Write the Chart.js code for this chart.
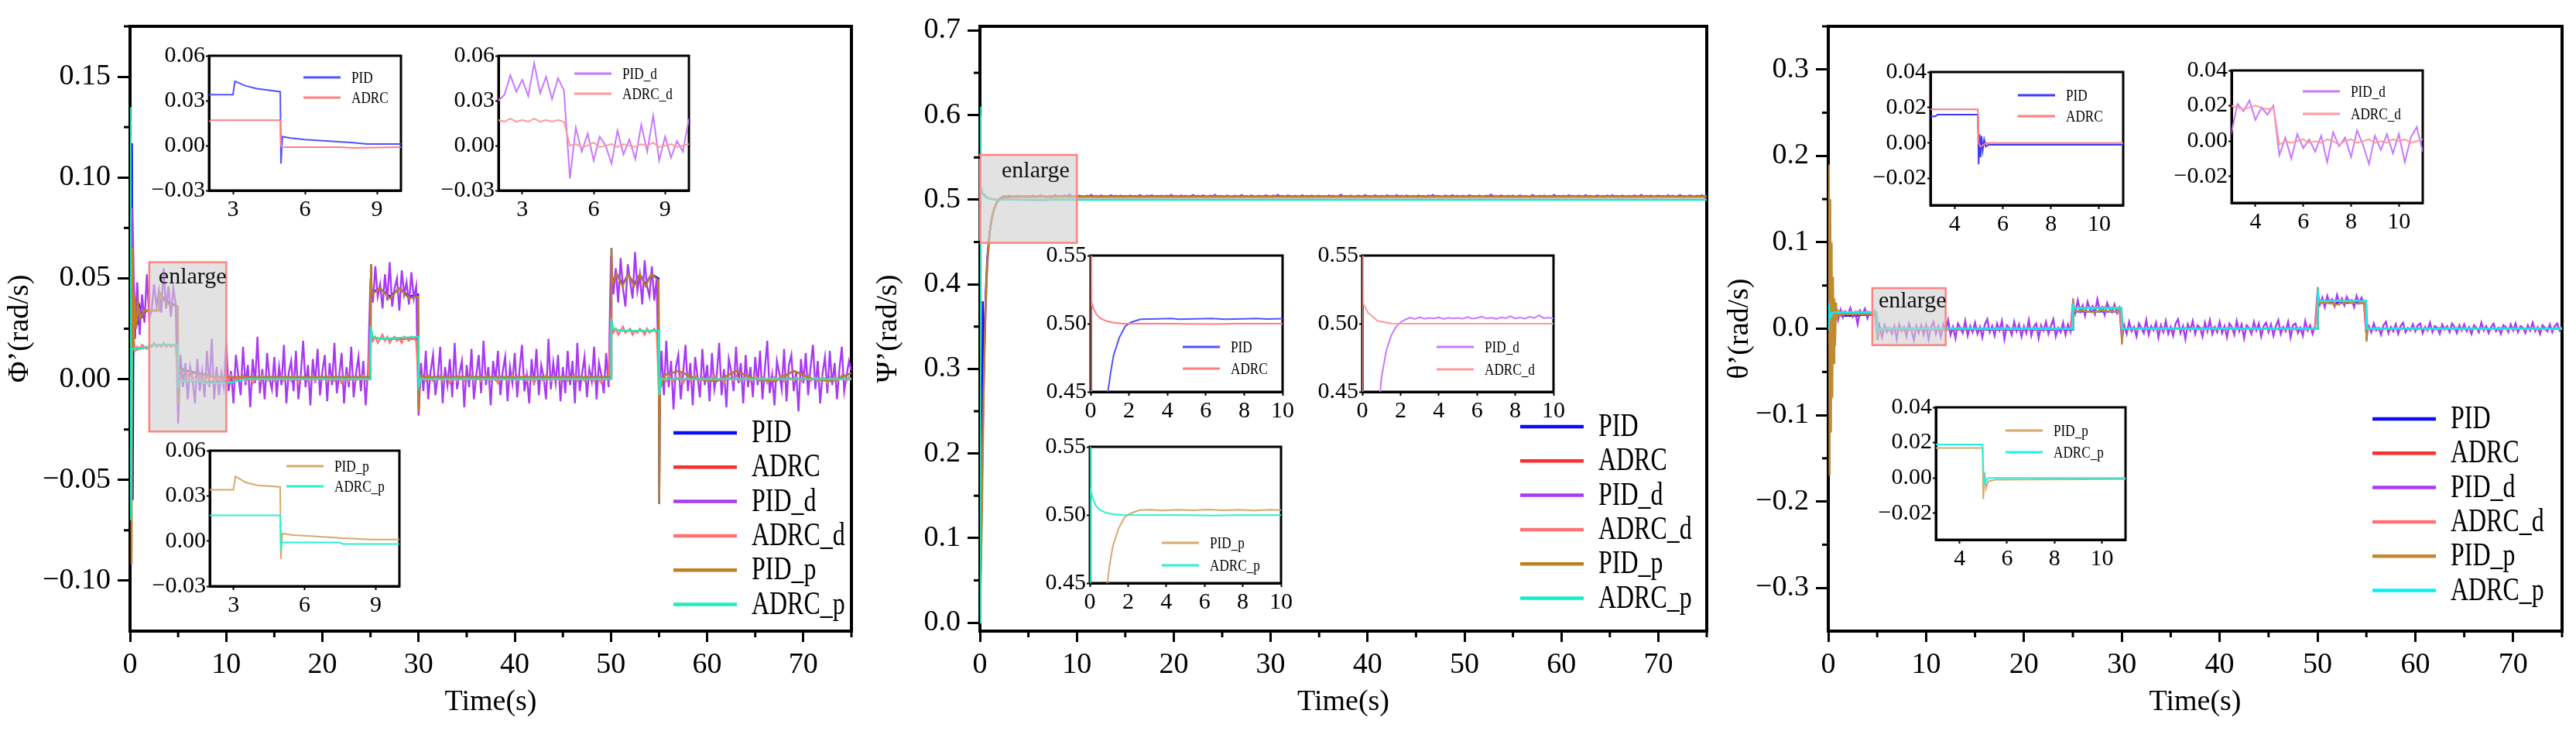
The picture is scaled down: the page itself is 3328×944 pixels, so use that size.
<!DOCTYPE html>
<html>
<head>
<meta charset="utf-8">
<script src="https://cdn.jsdelivr.net/npm/chart.js@4.4.0/dist/chart.umd.min.js"></script>
<style>
  html, body { margin: 0; padding: 0; background: #fff; }
  #wrap { position: relative; width: 3328px; height: 944px; overflow: hidden; background: #fff; }
  canvas { position: absolute; }
</style>
</head>
<body>
<div id="wrap"></div>
<script>
// ---------------- data ----------------
const seriesNames = ['PID', 'ADRC', 'PID_d', 'ADRC_d', 'PID_p', 'ADRC_p'];
const noiseStep = 0.25; // spacing (s) of the sampled noisy arrays

const timeTicks = [0, 10, 20, 30, 40, 50, 60, 70];
const phiTicks = [-0.1, -0.05, 0, 0.05, 0.1, 0.15];
const psiTicks = [0, 0.1, 0.2, 0.3, 0.4, 0.5, 0.6, 0.7];
const thetaTicks = [-0.3, -0.2, -0.1, 0, 0.1, 0.2, 0.3];
const phiInsetX = [3, 6, 9];
const phiInsetY = [-0.03, 0, 0.03, 0.06];
const psiInsetX = [0, 2, 4, 6, 8, 10];
const psiInsetY = [0.45, 0.5, 0.55];
const thetaInsetX = [4, 6, 8, 10];
const thetaInsetY = [-0.02, 0, 0.02, 0.04];

// Phi' — [time, value] breakpoints
const phiPid = [[0,0],[0.1,0.05],[0.2,0.117],[0.28,-0.06],[0.38,0.05],[0.5,0.02],[0.65,0.04],[0.8,0.027],[1.0,0.036],[1.3,0.031],[1.7,0.034],[3.0,0.034],[3.08,0.043],[3.5,0.040],[4.0,0.038],[4.97,0.036],[5.0,-0.012],[5.06,0.006],[5.4,0.005],[6,0.004],[7,0.003],[8,0.002],[8.6,0.001],[10,0.001],[25,0.001],[25.05,0.057],[25.12,0.043],[26,0.045],[27,0.041],[28,0.045],[29,0.041],[29.95,0.042],[30.02,-0.015],[30.1,0.002],[31,0.001],[50,0.001],[50.05,0.065],[50.12,0.048],[50.6,0.052],[51.2,0.047],[51.8,0.052],[52.4,0.047],[53,0.052],[53.6,0.047],[54.2,0.052],[54.95,0.05],[55.02,-0.062],[55.1,-0.004],[55.6,0.002],[57,0.004],[59,0.0],[61,-0.001],[63,0.004],[65,0.0],[67,-0.001],[69,0.004],[71,0.0],[73,-0.001],[75,0.003]];
const phiAdrc = [[0,0],[0.04,0.128],[0.1,-0.065],[0.18,0.014],[1,0.015],[2,0.016],[2.1,0.017],[4.97,0.017],[5.0,0.0],[5.05,-0.001],[7.5,-0.001],[8,-0.0015],[10,-0.001],[12,0],[25,0],[25.03,0.025],[25.2,0.021],[26,0.02],[30,0.02],[30.03,-0.003],[30.2,0],[50,0],[50.03,0.03],[50.2,0.025],[51,0.024],[55,0.024],[55.03,-0.008],[55.2,0],[75,0]];
const phiPidP = [[0,0],[0.06,0.12],[0.16,-0.092],[0.26,0.065],[0.36,0.015],[0.48,0.042],[0.65,0.025],[0.85,0.037],[1.1,0.03],[1.5,0.034],[3.0,0.034],[3.08,0.043],[3.5,0.039],[4.0,0.037],[4.97,0.036],[5.0,-0.012],[5.06,0.005],[5.5,0.004],[6.5,0.003],[7.5,0.002],[8.8,0.001],[10,0.001],[25,0.001],[25.05,0.057],[25.12,0.042],[26,0.045],[27,0.04],[28,0.045],[29,0.04],[29.95,0.041],[30.02,-0.016],[30.1,0.002],[31,0.001],[50,0.001],[50.05,0.065],[50.12,0.047],[50.6,0.052],[51.2,0.046],[51.8,0.052],[52.4,0.046],[53,0.052],[53.6,0.046],[54.2,0.052],[54.95,0.049],[55.02,-0.062],[55.1,-0.005],[55.6,0.002],[57,0.004],[59,0.0],[61,-0.001],[63,0.004],[65,0.0],[67,-0.001],[69,0.004],[71,0.0],[73,-0.001],[75,0.003]];
const phiAdrcP = [[0,0],[0.04,0.135],[0.1,-0.07],[0.18,0.015],[1,0.015],[1.9,0.016],[2,0.017],[4.97,0.017],[5.0,-0.004],[5.06,-0.001],[7.5,-0.001],[7.6,-0.002],[10,-0.002],[12,0],[25,0],[25.03,0.026],[25.2,0.021],[26,0.02],[29.97,0.021],[30.02,-0.003],[30.2,0],[50,0],[50.03,0.03],[50.2,0.025],[51,0.024],[54.97,0.024],[55.02,-0.008],[55.2,0],[75,0]];
// Phi' — noisy runs, one value every noiseStep seconds from t = 0 (rows of 5 s)
const phiPidD = [
  0, 0.085, 0.02, 0.048, 0.022, 0.042, 0.028, 0.052, 0.03, 0.034, 0.047, 0.036, 0.044, 0.033, 0.055, 0.035, 0.046, 0.031, 0.045, 0.037,
  -0.022, 0.012, -0.004, 0.008, -0.01, 0.006, 0.0, -0.012, 0.01, -0.006, 0.004, -0.009, 0.014, -0.004, 0.02, -0.01, 0.006, -0.008, 0.003, -0.004,
  0.018, -0.006, 0.004, -0.012, 0.012, 0.002, -0.008, 0.016, -0.003, 0.007, -0.014, 0.01, -0.002, 0.021, -0.007, 0.005, -0.01, 0.013, 0.0, -0.005,
  0.011, -0.009, 0.006, -0.003, 0.017, -0.012, 0.003, 0.009, -0.006, 0.014, -0.01, 0.002, 0.019, -0.004, 0.007, -0.013, 0.01, -0.002, 0.015, -0.008,
  0.004, 0.012, -0.011, 0.008, -0.003, 0.018, -0.007, 0.002, 0.013, -0.012, 0.006, -0.004, 0.016, -0.009, 0.003, 0.011, -0.006, 0.009, -0.013, 0.005,
  0.05, 0.038, 0.056, 0.041, 0.047, 0.035, 0.052, 0.039, 0.058, 0.036, 0.045, 0.05, 0.034, 0.054, 0.042, 0.048, 0.037, 0.053, 0.04, 0.046,
  -0.018, 0.008, -0.006, 0.014, -0.01, 0.004, 0.012, -0.008, 0.002, 0.016, -0.012, 0.006, -0.003, 0.01, -0.009, 0.018, -0.005, 0.003, 0.009, -0.014,
  0.007, -0.004, 0.015, -0.01, 0.002, 0.012, -0.007, 0.019, -0.003, 0.006, -0.013, 0.009, -0.001, 0.014, -0.008, 0.004, 0.011, -0.011, 0.006, -0.002,
  0.013, -0.009, 0.005, 0.017, -0.006, 0.002, -0.012, 0.01, -0.003, 0.015, -0.008, 0.007, 0.001, -0.01, 0.02, -0.005, 0.008, -0.002, 0.012, -0.011,
  0.006, -0.007, 0.014, -0.003, 0.009, -0.012, 0.018, -0.006, 0.003, 0.011, -0.009, 0.005, -0.001, 0.016, -0.01, 0.008, 0.002, -0.007, 0.013, -0.004,
  0.061, 0.042, 0.055, 0.038, 0.06, 0.045, 0.036, 0.057, 0.048, 0.04, 0.063, 0.044, 0.052, 0.037, 0.059, 0.046, 0.041, 0.056, 0.039, 0.05,
  -0.012, 0.014, -0.008, 0.019, -0.004, 0.009, -0.015, 0.006, 0.012, -0.01, 0.003, 0.017, -0.006, 0.008, -0.013, 0.011, 0.001, -0.009, 0.015, -0.003,
  0.007, -0.011, 0.013, -0.005, 0.002, 0.018, -0.008, 0.005, -0.014, 0.01, 0.004, -0.006, 0.016, -0.002, 0.008, -0.012, 0.012, -0.004, 0.006, -0.009,
  0.011, -0.003, 0.014, -0.01, 0.005, 0.019, -0.007, 0.002, -0.013, 0.009, 0.003, -0.005, 0.015, -0.011, 0.007, 0.012, -0.006, 0.004, -0.016, 0.01,
  -0.002, 0.013, -0.008, 0.006, 0.017, -0.005, 0.009, -0.012, 0.003, 0.011, -0.007, 0.014, -0.003, 0.008, -0.01, 0.005, 0.016, -0.006, 0.002, 0.009,
  0.004
];
const phiAdrcD = [
  0, 0.03, 0.014, 0.016, 0.015, 0.017, 0.016, 0.015, 0.017, 0.016, 0.018, 0.016, 0.017, 0.016, 0.018, 0.016, 0.017, 0.016, 0.017, 0.016,
  0.0, 0.001, -0.001, 0.0, 0.002, -0.001, 0.0, 0.001, -0.001, 0.001, 0.0, -0.001, 0.001, 0.0, 0.002, -0.001, 0.0, 0.001, -0.001, 0.0,
  0.001, -0.001, 0.002, 0.0, -0.001, 0.001, 0.0, 0.002, -0.001, 0.0, 0.001, -0.002, 0.0, 0.001, -0.001, 0.002, 0.0, -0.001, 0.001, 0.0,
  -0.001, 0.001, 0.0, 0.002, -0.001, 0.0, 0.001, -0.001, 0.002, 0.0, -0.002, 0.001, 0.0, 0.001, -0.001, 0.0, 0.002, -0.001, 0.001, 0.0,
  0.001, 0.0, -0.001, 0.002, 0.0, -0.001, 0.001, 0.0, -0.002, 0.001, 0.002, -0.001, 0.0, 0.001, -0.001, 0.001, 0.0, 0.002, -0.001, 0.0,
  0.026, 0.019, 0.021, 0.018, 0.02, 0.022, 0.019, 0.021, 0.018, 0.02, 0.021, 0.019, 0.02, 0.018, 0.021, 0.02, 0.019, 0.021, 0.02, 0.019,
  -0.003, 0.001, 0.0, -0.001, 0.002, 0.0, -0.001, 0.001, 0.0, 0.002, -0.001, 0.0, 0.001, -0.002, 0.0, 0.001, -0.001, 0.002, 0.0, -0.001,
  0.001, 0.0, 0.002, -0.001, 0.0, 0.001, -0.001, 0.0, 0.002, 0.0, -0.001, 0.001, 0.0, -0.002, 0.001, 0.0, 0.001, -0.001, 0.0, 0.002,
  0.0, -0.001, 0.001, 0.0, 0.002, -0.001, 0.0, 0.001, -0.002, 0.0, 0.001, 0.0, -0.001, 0.002, 0.0, -0.001, 0.001, 0.0, 0.001, -0.001,
  0.001, 0.0, -0.001, 0.001, 0.0, 0.002, -0.001, 0.0, 0.001, -0.001, 0.0, 0.002, 0.0, -0.001, 0.001, 0.0, -0.002, 0.001, 0.0, 0.001,
  0.03, 0.023, 0.025, 0.022, 0.024, 0.026, 0.023, 0.024, 0.025, 0.022, 0.024, 0.023, 0.025, 0.024, 0.022, 0.025, 0.023, 0.024, 0.025, 0.023,
  -0.006, 0.001, 0.0, -0.001, 0.002, 0.0, -0.001, 0.001, 0.0, 0.002, -0.002, 0.0, 0.001, -0.001, 0.0, 0.002, 0.0, -0.001, 0.001, 0.0,
  -0.001, 0.001, 0.0, 0.002, -0.001, 0.0, 0.001, -0.002, 0.0, 0.001, 0.0, -0.001, 0.002, 0.0, -0.001, 0.001, 0.0, 0.001, -0.001, 0.0,
  0.002, 0.0, -0.001, 0.001, 0.0, -0.002, 0.001, 0.0, 0.001, -0.001, 0.0, 0.002, -0.001, 0.0, 0.001, 0.0, -0.001, 0.001, 0.0, -0.001,
  0.001, 0.0, 0.002, -0.001, 0.0, 0.001, -0.001, 0.0, 0.001, 0.0, -0.002, 0.001, 0.0, 0.001, -0.001, 0.0, 0.002, 0.0, -0.001, 0.001,
  0.0
];

// Psi'
const psiPid = [[0,0],[0.2,0.16],[0.3,0.38],[0.4,0.3],[0.6,0.39],[0.75,0.43],[0.9,0.45],[1.05,0.465],[1.2,0.477],[1.5,0.49],[1.8,0.498],[2.1,0.501],[2.6,0.5032],[3.5,0.5035],[4.2,0.5038],[4.6,0.5033],[5.5,0.5036],[6.3,0.5038],[7,0.5033],[8,0.5036],[8.6,0.5039],[9.2,0.5034],[10,0.5037],[75,0.5035]];
const psiAdrc = [[0,0],[0.02,0.6],[0.05,0.516],[0.15,0.511],[0.3,0.507],[0.5,0.504],[0.8,0.502],[1.2,0.5007],[1.7,0.5],[4,0.5],[5,0.4998],[6.5,0.4997],[7.5,0.5],[10,0.5],[75,0.5]];
const psiAdrcD = [[0,0],[0.02,0.6],[0.05,0.515],[0.3,0.508],[0.8,0.502],[1.5,0.5002],[2,0.5],[10,0.5],[75,0.5]];
const psiPidP = [[0,0],[0.2,0.12],[0.4,0.28],[0.6,0.38],[0.8,0.435],[1.0,0.46],[1.2,0.477],[1.5,0.49],[1.8,0.498],[2.1,0.501],[2.6,0.5035],[3.2,0.5038],[3.8,0.5033],[4.6,0.5039],[5.4,0.5034],[6.2,0.504],[7,0.5034],[7.8,0.5039],[8.6,0.5033],[9.4,0.5039],[10,0.5036],[75,0.5037]];
const psiAdrcP = [[0,0],[0.01,0.61],[0.04,0.52],[0.15,0.512],[0.3,0.507],[0.5,0.504],[0.8,0.5018],[1.2,0.5005],[1.7,0.5],[5,0.4998],[6.5,0.4996],[7.5,0.4999],[10,0.4999],[75,0.4999]];
const psiPidD = [
  0, 0.2, 0.34, 0.42, 0.46, 0.48, 0.491, 0.4975, 0.501, 0.503, 0.5045, 0.5035, 0.5048, 0.5036, 0.5042, 0.5038, 0.5046, 0.5034, 0.5044, 0.5039,
  0.5043, 0.5036, 0.5049, 0.5037, 0.5041, 0.5052, 0.5038, 0.5044, 0.5035, 0.5047, 0.5040, 0.5055, 0.5039, 0.5046, 0.5036, 0.5051, 0.5042, 0.5062, 0.5040, 0.5045,
  0.5038, 0.5050, 0.5041, 0.5036, 0.5048, 0.5043, 0.5057, 0.5039, 0.5046, 0.5035, 0.5052, 0.5040, 0.5044, 0.5037, 0.5053, 0.5041, 0.5047, 0.5036, 0.5049, 0.5042,
  0.5045, 0.5037, 0.5051, 0.5040, 0.5046, 0.5038, 0.5056, 0.5042, 0.5036, 0.5049, 0.5041, 0.5054, 0.5038, 0.5045, 0.5040, 0.5050, 0.5037, 0.5047, 0.5043, 0.5058,
  0.5039, 0.5046, 0.5036, 0.5052, 0.5041, 0.5048, 0.5037, 0.5044, 0.5055, 0.5040, 0.5047, 0.5038, 0.5051, 0.5043, 0.5036, 0.5049, 0.5042, 0.5057, 0.5039, 0.5045,
  0.5044, 0.5037, 0.5050, 0.5041, 0.5035, 0.5048, 0.5043, 0.5039, 0.5055, 0.5040, 0.5046, 0.5036, 0.5051, 0.5042, 0.5038, 0.5047, 0.5044, 0.5036, 0.5053, 0.5041,
  0.5037, 0.5049, 0.5042, 0.5058, 0.5040, 0.5045, 0.5036, 0.5051, 0.5043, 0.5038, 0.5047, 0.5041, 0.5035, 0.5054, 0.5039, 0.5046, 0.5042, 0.5050, 0.5037, 0.5044,
  0.5048, 0.5039, 0.5045, 0.5036, 0.5052, 0.5041, 0.5047, 0.5038, 0.5044, 0.5060, 0.5040, 0.5046, 0.5037, 0.5050, 0.5042, 0.5036, 0.5049, 0.5043, 0.5039, 0.5055,
  0.5041, 0.5046, 0.5037, 0.5051, 0.5043, 0.5039, 0.5048, 0.5035, 0.5053, 0.5042, 0.5045, 0.5038, 0.5056, 0.5040, 0.5047, 0.5036, 0.5050, 0.5044, 0.5039, 0.5046,
  0.5037, 0.5052, 0.5040, 0.5045, 0.5036, 0.5049, 0.5043, 0.5057, 0.5038, 0.5046, 0.5041, 0.5035, 0.5050, 0.5044, 0.5039, 0.5053, 0.5040, 0.5047, 0.5036, 0.5048,
  0.5043, 0.5038, 0.5054, 0.5041, 0.5046, 0.5037, 0.5050, 0.5042, 0.5039, 0.5048, 0.5044, 0.5059, 0.5040, 0.5045, 0.5036, 0.5051, 0.5043, 0.5038, 0.5047, 0.5041,
  0.5049, 0.5036, 0.5044, 0.5052, 0.5039, 0.5046, 0.5041, 0.5035, 0.5055, 0.5043, 0.5038, 0.5048, 0.5042, 0.5050, 0.5037, 0.5045, 0.5040, 0.5057, 0.5039, 0.5046,
  0.5042, 0.5048, 0.5037, 0.5053, 0.5041, 0.5045, 0.5036, 0.5050, 0.5044, 0.5039, 0.5056, 0.5040, 0.5047, 0.5038, 0.5043, 0.5051, 0.5036, 0.5046, 0.5042, 0.5049,
  0.5038, 0.5054, 0.5041, 0.5046, 0.5037, 0.5050, 0.5043, 0.5039, 0.5047, 0.5036, 0.5052, 0.5044, 0.5040, 0.5058, 0.5038, 0.5045, 0.5041, 0.5049, 0.5037, 0.5044,
  0.5050, 0.5039, 0.5045, 0.5036, 0.5053, 0.5042, 0.5047, 0.5038, 0.5044, 0.5055, 0.5040, 0.5046, 0.5037, 0.5051, 0.5043, 0.5039, 0.5048, 0.5041, 0.5054, 0.5040,
  0.5045
];

// Theta'
const thetaPid = [[0,0],[0.08,0.12],[0.16,-0.1],[0.25,0.06],[0.35,-0.03],[0.45,0.03],[0.55,0.005],[0.75,0.018],[1,0.015],[3.2,0.015],[3.3,0.016],[4.97,0.016],[5.0,-0.012],[5.04,0.005],[5.08,-0.008],[5.12,0.004],[5.17,-0.004],[5.23,0.002],[5.3,-0.002],[5.4,-0.001],[25,-0.001],[25.03,0.03],[25.1,0.02],[29.97,0.02],[30.02,-0.015],[30.1,0.0],[50,0],[50.03,0.045],[50.1,0.03],[54.97,0.03],[55.02,-0.012],[55.1,0],[75,0]];
const thetaAdrc = [[0,0],[0.06,0.05],[0.12,-0.02],[0.22,0.025],[0.4,0.015],[0.7,0.019],[4.97,0.019],[5.0,0.0],[5.08,-0.002],[5.3,0],[25,0],[25.03,0.028],[25.1,0.024],[29.97,0.024],[30.02,-0.003],[30.1,0],[50,0],[50.03,0.04],[50.1,0.032],[54.97,0.032],[55.02,-0.004],[55.1,0],[75,0]];
const thetaPidP = [[0,0],[0.07,0.19],[0.14,-0.17],[0.21,0.15],[0.28,-0.12],[0.35,0.1],[0.42,-0.08],[0.49,0.06],[0.56,-0.04],[0.63,0.035],[0.7,-0.02],[0.8,0.03],[0.9,0.01],[1.0,0.02],[1.2,0.015],[1.5,0.017],[4.97,0.017],[5.0,-0.012],[5.06,0.003],[5.12,-0.006],[5.2,-0.002],[5.5,-0.001],[25,0],[25.04,0.035],[25.1,0.02],[26,0.021],[27,0.019],[28,0.021],[29,0.02],[29.97,0.02],[30.02,-0.018],[30.12,0.002],[30.4,0],[50,0],[50.04,0.048],[50.1,0.03],[51,0.03],[52,0.028],[53,0.031],[54,0.029],[54.97,0.03],[55.02,-0.015],[55.12,0.002],[55.4,0],[75,0]];
const thetaAdrcP = [[0,0],[0.06,0.03],[0.16,0.012],[0.4,0.018],[0.7,0.019],[4.97,0.019],[5.0,0.005],[5.05,-0.003],[5.2,0],[25,0],[25.02,0.026],[25.1,0.024],[29.97,0.024],[30.02,0.0],[50,0],[50.03,0.046],[50.1,0.032],[54.97,0.032],[55.02,0],[75,0]];
const thetaPidD = [
  0, 0.058, 0.005, 0.025, 0.01, 0.022, 0.013, 0.02, 0.016, 0.024, 0.014, 0.019, 0.005, 0.021, 0.017, 0.023, 0.012, 0.019, 0.015, 0.02,
  -0.008, 0.002, -0.01, 0.004, -0.004, 0.001, -0.006, 0.003, -0.012, 0.005, -0.003, 0.002, -0.009, 0.006, -0.002, -0.013, 0.003, -0.005, 0.004, -0.007,
  0.004, -0.012, 0.002, 0.008, -0.006, 0.003, -0.009, 0.005, -0.003, 0.01, -0.007, 0.002, -0.011, 0.006, 0.001, -0.005, 0.009, -0.008, 0.003, -0.004,
  0.007, -0.006, 0.002, -0.01, 0.005, 0.011, -0.004, 0.003, -0.008, 0.006, -0.002, 0.009, -0.012, 0.004, 0.001, -0.007, 0.008, -0.003, 0.005, -0.009,
  0.003, -0.005, 0.01, -0.008, 0.002, 0.006, -0.011, 0.004, -0.002, 0.008, -0.006, 0.003, 0.011, -0.009, 0.001, -0.004, 0.007, -0.007, 0.005, -0.003,
  0.03, 0.018, 0.033, 0.02, 0.027, 0.015, 0.031, 0.022, 0.026, 0.017, 0.034, 0.021, 0.025, 0.016, 0.03, 0.023, 0.019, 0.028, 0.018, 0.024,
  -0.012, 0.004, -0.006, 0.008, -0.003, 0.002, -0.009, 0.006, 0.001, -0.005, 0.01, -0.007, 0.003, -0.002, 0.007, -0.01, 0.004, -0.004, 0.009, -0.006,
  0.002, -0.008, 0.006, 0.011, -0.005, 0.003, -0.012, 0.005, -0.002, 0.009, -0.006, 0.004, 0.001, -0.009, 0.007, -0.003, 0.01, -0.006, 0.002, -0.004,
  0.008, -0.005, 0.003, -0.01, 0.006, 0.002, -0.007, 0.009, -0.003, 0.005, -0.011, 0.004, 0.001, -0.006, 0.008, -0.002, 0.006, -0.009, 0.003, 0.007,
  -0.004, 0.005, -0.008, 0.003, 0.01, -0.006, 0.002, -0.003, 0.008, -0.01, 0.004, 0.006, -0.005, 0.001, -0.008, 0.009, -0.002, 0.004, -0.006, 0.003,
  0.042, 0.028, 0.036, 0.025, 0.038, 0.03, 0.034, 0.026, 0.039, 0.029, 0.035, 0.027, 0.037, 0.031, 0.033, 0.025, 0.038, 0.03, 0.036, 0.028,
  -0.008, 0.003, -0.004, 0.006, -0.002, 0.001, -0.007, 0.004, 0.008, -0.005, 0.002, -0.003, 0.005, -0.006, 0.003, 0.007, -0.004, 0.001, -0.002, 0.005,
  -0.003, 0.004, 0.006, -0.005, 0.002, -0.002, 0.007, -0.004, 0.003, 0.001, -0.006, 0.005, -0.001, 0.003, -0.004, 0.006, 0.002, -0.005, 0.004, -0.002,
  0.005, -0.003, 0.002, -0.006, 0.004, 0.001, -0.004, 0.007, -0.002, 0.003, -0.005, 0.002, 0.006, -0.003, 0.001, -0.006, 0.004, 0.002, -0.004, 0.005,
  -0.002, 0.006, -0.004, 0.003, 0.001, -0.005, 0.004, -0.002, 0.007, -0.003, 0.002, -0.006, 0.004, 0.001, -0.003, 0.005, -0.004, 0.003, 0.006, -0.002,
  0.002
];
const thetaAdrcD = [
  0, 0.03, 0.012, 0.02, 0.018, 0.019, 0.02, 0.018, 0.019, 0.02, 0.019, 0.018, 0.02, 0.019, 0.018, 0.019, 0.02, 0.019, 0.018, 0.019,
  -0.002, 0.0, -0.001, 0.0, 0.001, -0.001, 0.0, -0.001, 0.001, 0.0, -0.002, 0.0, 0.001, -0.001, 0.0, 0.001, -0.001, 0.0, -0.001, 0.001,
  0.0, 0.001, -0.001, 0.0, 0.001, 0.0, -0.001, 0.001, 0.0, -0.001, 0.0, 0.001, 0.0, -0.001, 0.001, 0.0, -0.001, 0.0, 0.001, 0.0,
  -0.001, 0.0, 0.001, 0.0, -0.001, 0.001, 0.0, 0.0, -0.001, 0.001, 0.0, -0.001, 0.0, 0.001, 0.0, -0.001, 0.001, 0.0, 0.0, -0.001,
  0.001, 0.0, -0.001, 0.0, 0.001, -0.001, 0.0, 0.001, 0.0, -0.001, 0.001, 0.0, 0.0, -0.001, 0.001, 0.0, -0.001, 0.001, 0.0, 0.0,
  0.027, 0.023, 0.024, 0.025, 0.023, 0.024, 0.025, 0.024, 0.023, 0.025, 0.024, 0.023, 0.024, 0.025, 0.024, 0.023, 0.024, 0.025, 0.023, 0.024,
  -0.003, 0.001, 0.0, -0.001, 0.001, 0.0, -0.001, 0.0, 0.001, 0.0, -0.001, 0.001, 0.0, -0.001, 0.0, 0.001, 0.0, -0.001, 0.001, 0.0,
  0.0, -0.001, 0.001, 0.0, -0.001, 0.0, 0.001, 0.0, -0.001, 0.001, 0.0, 0.0, -0.001, 0.001, 0.0, -0.001, 0.0, 0.001, 0.0, -0.001,
  0.001, 0.0, -0.001, 0.001, 0.0, 0.0, -0.001, 0.001, 0.0, -0.001, 0.0, 0.001, 0.0, 0.0, -0.001, 0.001, 0.0, -0.001, 0.001, 0.0,
  -0.001, 0.001, 0.0, 0.0, -0.001, 0.001, 0.0, -0.001, 0.0, 0.001, 0.0, -0.001, 0.001, 0.0, 0.0, -0.001, 0.001, 0.0, -0.001, 0.0,
  0.036, 0.031, 0.033, 0.032, 0.031, 0.033, 0.032, 0.031, 0.033, 0.032, 0.033, 0.031, 0.032, 0.033, 0.031, 0.032, 0.033, 0.032, 0.031, 0.032,
  -0.004, 0.001, 0.0, -0.001, 0.001, 0.0, 0.0, -0.001, 0.001, 0.0, -0.001, 0.0, 0.001, 0.0, -0.001, 0.001, 0.0, 0.0, -0.001, 0.001,
  0.0, -0.001, 0.001, 0.0, 0.0, -0.001, 0.001, 0.0, -0.001, 0.0, 0.001, 0.0, -0.001, 0.001, 0.0, 0.0, -0.001, 0.001, 0.0, -0.001,
  0.001, 0.0, 0.0, -0.001, 0.001, 0.0, -0.001, 0.0, 0.001, 0.0, 0.0, -0.001, 0.001, 0.0, -0.001, 0.001, 0.0, 0.0, -0.001, 0.0,
  0.001, -0.001, 0.0, 0.001, 0.0, -0.001, 0.0, 0.001, 0.0, -0.001, 0.001, 0.0, 0.0, -0.001, 0.001, 0.0, -0.001, 0.0, 0.001, 0.0,
  0.0
];

// ---------------- helpers ----------------
const FONT = '"Liberation Serif", "DejaVu Serif", serif';
Chart.defaults.font.family = FONT;
Chart.defaults.color = '#000';

const pairs = a => a.map(p => ({ x: p[0], y: p[1] }));
const sampled = a => a.map((y, i) => ({ x: i * noiseStep, y }));

function fmt(dec) {
  return v => {
    if (Math.abs(v) < 1e-9) return (0).toFixed(dec);
    return (v < 0 ? '\u2212' : '') + Math.abs(v).toFixed(dec);
  };
}

function makeCanvas(r) {
  const c = document.createElement('canvas');
  c.width = r[2]; c.height = r[3];
  c.style.left = r[0] + 'px'; c.style.top = r[1] + 'px';
  c.style.width = r[2] + 'px'; c.style.height = r[3] + 'px';
  document.getElementById('wrap').appendChild(c);
  return c;
}

// box frame drawn under the curves, like the reference
function framePlugin(w, white) {
  return {
    id: 'frame',
    beforeDraw(chart) {
      if (!white) return;
      const a = chart.chartArea, ctx = chart.ctx;
      ctx.save(); ctx.fillStyle = '#fff';
      ctx.fillRect(a.left, a.top, a.right - a.left, a.bottom - a.top);
      ctx.restore();
    },
    beforeDatasetsDraw(chart) {
      const a = chart.chartArea, ctx = chart.ctx;
      ctx.save(); ctx.strokeStyle = '#000'; ctx.lineWidth = w;
      ctx.strokeRect(a.left, a.top, a.right - a.left, a.bottom - a.top);
      ctx.restore();
    }
  };
}

function minorTicksPlugin(len, w) {
  return {
    id: 'minorTicks',
    afterDraw(chart) {
      const ctx = chart.ctx, a = chart.chartArea;
      ctx.save(); ctx.strokeStyle = '#000'; ctx.lineWidth = w;
      ['x', 'y'].forEach(key => {
        const s = chart.scales[key];
        const vals = s.ticks.map(t => t.value);
        const step = vals[1] - vals[0];
        for (let i = -1; i < vals.length; i++) {
          const v = i < 0 ? vals[0] - step / 2 : vals[i] + step / 2;
          if (v <= s.min + 1e-9 || v > s.max + 1e-9) continue;
          const p = s.getPixelForValue(v);
          ctx.beginPath();
          if (key === 'x') { ctx.moveTo(p, a.bottom); ctx.lineTo(p, a.bottom + len); }
          else { ctx.moveTo(a.left, p); ctx.lineTo(a.left - len, p); }
          ctx.stroke();
        }
      });
      ctx.restore();
    }
  };
}

function enlargePlugin(box, dx, dy) {
  return {
    id: 'enlarge',
    afterDatasetsDraw(chart) {
      const { x, y } = chart.scales, ctx = chart.ctx;
      const l = x.getPixelForValue(box[0]), r = x.getPixelForValue(box[1]);
      const t = y.getPixelForValue(box[3]), b = y.getPixelForValue(box[2]);
      ctx.save();
      ctx.fillStyle = 'rgba(208,208,208,0.62)';
      ctx.fillRect(l, t, r - l, b - t);
      ctx.strokeStyle = '#ff8282'; ctx.lineWidth = 2.5;
      ctx.strokeRect(l, t, r - l, b - t);
      ctx.fillStyle = '#111'; ctx.font = '30px ' + FONT; ctx.textBaseline = 'middle';
      ctx.fillText('enlarge', l + dx, t + dy);
      ctx.restore();
    }
  };
}

function legendPlugin(spec) {
  return {
    id: 'lineLegend',
    afterDraw(chart) {
      const a = chart.chartArea, ctx = chart.ctx;
      ctx.save();
      ctx.font = spec.font; ctx.textBaseline = 'middle'; ctx.fillStyle = '#000';
      spec.items.forEach((it, i) => {
        const x0 = a.left + spec.dx, y0 = a.top + spec.dy + i * spec.gap;
        ctx.strokeStyle = it.color; ctx.lineWidth = spec.lw;
        ctx.beginPath(); ctx.moveTo(x0, y0); ctx.lineTo(x0 + spec.len, y0); ctx.stroke();
        ctx.save(); ctx.translate(x0 + spec.textDx, y0 + 1); ctx.scale(spec.squeeze, 1);
        ctx.fillText(it.label, 0, 0); ctx.restore();
      });
      ctx.restore();
    }
  };
}

function line(label, data, color, width) {
  return { label, data, borderColor: color, borderWidth: width, pointRadius: 0, tension: 0, fill: false };
}

function axis(min, max, ticks, cb, font, tick, border, size, isX) {
  const sc = {
    type: 'linear', min, max,
    afterBuildTicks: s => { s.ticks = ticks.map(v => ({ value: v })); },
    ticks: { callback: cb, font: { size: font }, color: '#000', padding: tick[2], maxRotation: 0, autoSkip: false },
    grid: { drawOnChartArea: false, tickLength: tick[0], tickWidth: tick[1], tickColor: '#000', color: '#000' },
    border: { display: true, color: '#000', width: border }
  };
  if (isX) sc.afterFit = s => { s.height = size; };
  else sc.afterFit = s => { s.width = size; };
  return sc;
}

// ---------------- main panels ----------------
function mainChart(p) {
  const [cl, ct, cw, ch] = p.canvas;
  const [al, at, ar, ab] = p.area;
  const cols = p.colors;
  const datasets = [5, 4, 3, 2, 1, 0].map(i => line(seriesNames[i], p.series[i], cols[i], 2.4));
  const xs = axis(0, 75, timeTicks, v => String(v), 38, [14, 3, 7], 4, ct + ch - ab, true);
  xs.title = { display: true, text: 'Time(s)', font: { size: 38 }, color: '#000', padding: { top: 0, bottom: 14 } };
  const ys = axis(p.yMin, p.yMax, p.yTicks, fmt(p.dec), 38, [16, 3, 9], 4, al - cl, false);
  ys.title = { display: true, text: p.yTitle, font: { size: 38 }, color: '#000', padding: { top: p.titlePad, bottom: 0 } };
  return new Chart(makeCanvas(p.canvas), {
    type: 'line',
    data: { datasets },
    options: {
      responsive: false, animation: false, events: [], devicePixelRatio: 1,
      layout: { padding: { top: at - ct, right: cl + cw - ar, left: 0, bottom: 0 } },
      plugins: { legend: { display: false }, tooltip: { enabled: false } },
      scales: { x: xs, y: ys }
    },
    plugins: [
      framePlugin(4, false), minorTicksPlugin(8, 3),
      enlargePlugin(p.box, p.boxLabel[0], p.boxLabel[1]),
      legendPlugin({ dx: p.legend[0], dy: p.legend[1], gap: 44.3, len: 82, textDx: 101, lw: 4.5,
        font: '42px ' + FONT, squeeze: 0.76, items: seriesNames.map((n, i) => ({ label: n, color: cols[i] })) })
    ]
  });
}

// ---------------- insets ----------------
function insetChart(q) {
  const [l, t, r, b] = q.area;
  const rect = [l - 100, t - 20, (r - l) + 124, (b - t) + 70];
  const xs = axis(q.x[0], q.x[1], q.xTicks, v => String(v), 30, [5, 2, 2], 3, 50, true);
  const ys = axis(q.y[0], q.y[1], q.yTicks, fmt(2), 30, [4, 2, 1], 3, 100, false);
  return new Chart(makeCanvas(rect), {
    type: 'line',
    data: { datasets: [line(q.names[1], q.data[1], q.colors[1], 2), line(q.names[0], q.data[0], q.colors[0], 2)] },
    options: {
      responsive: false, animation: false, events: [], devicePixelRatio: 1,
      layout: { padding: { top: 20, right: 24, left: 0, bottom: 0 } },
      plugins: { legend: { display: false }, tooltip: { enabled: false } },
      scales: { x: xs, y: ys }
    },
    plugins: [
      framePlugin(3, true),
      legendPlugin({ dx: q.legend[0], dy: q.legend[1], gap: q.legend[2], len: 48, textDx: 62, lw: 3,
        font: '22px ' + FONT, squeeze: 0.78,
        items: [{ label: q.names[0], color: q.colors[0] }, { label: q.names[1], color: q.colors[1] }] })
    ]
  });
}

// ---------------- build ----------------
const phiSets = [pairs(phiPid), pairs(phiAdrc), sampled(phiPidD), sampled(phiAdrcD), pairs(phiPidP), pairs(phiAdrcP)];
const psiSets = [pairs(psiPid), pairs(psiAdrc), sampled(psiPidD), pairs(psiAdrcD), pairs(psiPidP), pairs(psiAdrcP)];
const thetaSets = [pairs(thetaPid), pairs(thetaAdrc), sampled(thetaPidD), sampled(thetaAdrcD), pairs(thetaPidP), pairs(thetaAdrcP)];

const mainCols = {
  phi:   ['#0a0aff', '#ff2d2d', '#a83af5', '#ff7373', '#bd7f22', '#1deec0'],
  psi:   ['#0a0aff', '#ff2d2d', '#a83af5', '#ff7373', '#bd7f22', '#12efc6'],
  theta: ['#0a0aff', '#ff2d2d', '#a83af5', '#ff7373', '#c08a30', '#08f0f2']
};
const insetCols = {
  phi:   ['#5252ff', '#ff8080', '#c878ff', '#ff9a9a', '#d6aa6c', '#2cf0cc'],
  psi:   ['#5252ff', '#ff8080', '#c878ff', '#ff9a9a', '#d6aa6c', '#2cf0cc'],
  theta: ['#3a3aff', '#ff7a7a', '#c878ff', '#ff9a9a', '#d6aa6c', '#1ef2e6']
};

mainChart({ canvas: [0, 0, 1112, 944], area: [168, 34, 1100, 815], series: phiSets, colors: mainCols.phi,
  yMin: -0.125, yMax: 0.175, yTicks: phiTicks, dec: 2, yTitle: 'Φ’(rad/s)', titlePad: 3,
  box: [2, 10, -0.026, 0.058], boxLabel: [12, 20], legend: [702, 525] });
mainChart({ canvas: [1112, 0, 1106, 944], area: [1266, 34, 2205, 815], series: psiSets, colors: mainCols.psi,
  yMin: -0.01, yMax: 0.705, yTicks: psiTicks, dec: 1, yTitle: 'Ψ’(rad/s)', titlePad: 13,
  box: [0, 10, 0.449, 0.553], boxLabel: [28, 21], legend: [698, 517] });
mainChart({ canvas: [2218, 0, 1110, 944], area: [2362, 34, 3310, 815], series: thetaSets, colors: mainCols.theta,
  yMin: -0.35, yMax: 0.35, yTicks: thetaTicks, dec: 1, yTitle: 'θ’(rad/s)', titlePad: 7,
  box: [4.5, 12, -0.019, 0.047], boxLabel: [8, 17], legend: [703, 507] });

const insetSpecs = [
  // Phi'
  { area: [270, 72, 518, 246], x: [2, 10], y: [-0.03, 0.06], xTicks: phiInsetX, yTicks: phiInsetY, sets: phiSets, k: 0, pal: insetCols.phi, legend: [122, 28, 26] },
  { area: [644, 72, 890, 246], x: [2, 10], y: [-0.03, 0.06], xTicks: phiInsetX, yTicks: phiInsetY, sets: phiSets, k: 2, pal: insetCols.phi, legend: [98, 23, 26] },
  { area: [271, 582, 516, 757], x: [2, 10], y: [-0.03, 0.06], xTicks: phiInsetX, yTicks: phiInsetY, sets: phiSets, k: 4, pal: insetCols.phi, legend: [99, 20, 26] },
  // Psi'
  { area: [1409, 330, 1657, 506], x: [0, 10], y: [0.45, 0.55], xTicks: psiInsetX, yTicks: psiInsetY, sets: psiSets, k: 0, pal: insetCols.psi, legend: [119, 118, 28] },
  { area: [1760, 330, 2007, 506], x: [0, 10], y: [0.45, 0.55], xTicks: psiInsetX, yTicks: psiInsetY, sets: psiSets, k: 2, pal: insetCols.psi, legend: [96, 118, 29] },
  { area: [1408, 577, 1655, 753], x: [0, 10], y: [0.45, 0.55], xTicks: psiInsetX, yTicks: psiInsetY, sets: psiSets, k: 4, pal: insetCols.psi, legend: [93, 124, 29] },
  // Theta'
  { area: [2494, 93, 2743, 265], x: [3, 11], y: [-0.035, 0.04], xTicks: thetaInsetX, yTicks: thetaInsetY, sets: thetaSets, k: 0, pal: insetCols.theta, legend: [113, 30, 27] },
  { area: [2883, 91, 3130, 262], x: [3, 11], y: [-0.035, 0.04], xTicks: thetaInsetX, yTicks: thetaInsetY, sets: thetaSets, k: 2, pal: insetCols.theta, legend: [92, 27, 29] },
  { area: [2501, 526, 2746, 697], x: [3, 11], y: [-0.035, 0.04], xTicks: thetaInsetX, yTicks: thetaInsetY, sets: thetaSets, k: 4, pal: insetCols.theta, legend: [90, 30, 28] }
];
insetSpecs.forEach(s => insetChart({
  area: s.area, x: s.x, y: s.y, xTicks: s.xTicks, yTicks: s.yTicks, legend: s.legend,
  names: [seriesNames[s.k], seriesNames[s.k + 1]],
  data: [s.sets[s.k], s.sets[s.k + 1]],
  colors: [s.pal[s.k], s.pal[s.k + 1]]
}));
</script>
</body>
</html>
